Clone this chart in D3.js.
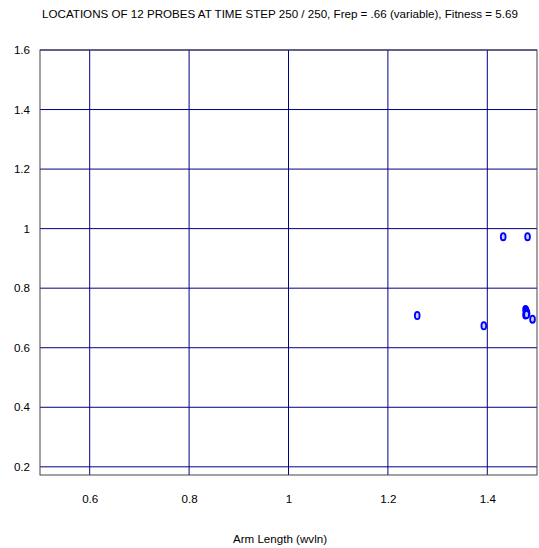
<!DOCTYPE html>
<html><head><meta charset="utf-8">
<script src="https://d3js.org/d3.v7.min.js"></script>
<style>body{margin:0;background:#fff;} svg{display:block;}</style>
</head><body>
<script>
const titleText = "LOCATIONS OF 12 PROBES AT TIME STEP 250 / 250, Frep = .66 (variable), Fitness = 5.69";
const xLabel = "Arm Length (wvln)";
const xTicks = [0.6, 0.8, 1, 1.2, 1.4];
const yTicks = [0.2, 0.4, 0.6, 0.8, 1, 1.2, 1.4, 1.6];
const probeX = [1.432, 1.481, 1.259, 1.393, 1.477, 1.478, 1.479, 1.480, 1.478, 1.477, 1.479, 1.491];
const probeY = [0.973, 0.973, 0.708, 0.674, 0.728, 0.724, 0.720, 0.716, 0.713, 0.710, 0.712, 0.696];

const W = 539, H = 548;
const mLeft = 40, mRight = 537, mTop = 50, mBottom = 475;
const svg = d3.select("body").append("svg").attr("width", W).attr("height", H);
const x = d3.scaleLinear().domain([0.5, 1.5]).range([mLeft, mRight]);
const y = d3.scaleLinear().domain([0.1725, 1.6]).range([mBottom, mTop]);
const font = "'Liberation Sans', Arial, sans-serif";

svg.append("text").attr("x", 280).attr("y", 18).attr("text-anchor", "middle")
  .attr("font-family", font).attr("font-size", 11.6).attr("fill", "#000").text(titleText);

const g = svg.append("g");
g.selectAll("line.vx").data(xTicks).join("line")
  .attr("x1", d => x(d)).attr("x2", d => x(d)).attr("y1", mTop).attr("y2", mBottom)
  .attr("stroke", "#000080").attr("stroke-width", 1);
g.selectAll("line.hy").data(yTicks).join("line")
  .attr("y1", d => y(d)).attr("y2", d => y(d)).attr("x1", mLeft).attr("x2", mRight)
  .attr("stroke", "#000080").attr("stroke-width", 1);

svg.append("rect").attr("x", mLeft).attr("y", mTop).attr("width", mRight - mLeft).attr("height", mBottom - mTop)
  .attr("fill", "none").attr("stroke", "#444").attr("stroke-width", 1);

const xAxis = d3.axisBottom(x).tickValues(xTicks).tickSize(0).tickPadding(20).tickFormat(d3.format(""));
const ax = svg.append("g").attr("transform", `translate(0,${mBottom})`).call(xAxis);
ax.select(".domain").remove();
ax.selectAll("text").attr("font-family", font).attr("font-size", 11.6).attr("fill", "#000");

const yAxis = d3.axisLeft(y).tickValues(yTicks).tickSize(0).tickPadding(10).tickFormat(d3.format(""));
const ay = svg.append("g").attr("transform", `translate(${mLeft},0)`).call(yAxis);
ay.select(".domain").remove();
ay.selectAll("text").attr("font-family", font).attr("font-size", 11.6).attr("fill", "#000");

svg.append("text").attr("x", 280).attr("y", 543).attr("text-anchor", "middle")
  .attr("font-family", font).attr("font-size", 11.6).attr("fill", "#000").text(xLabel);

const pts = probeX.map((v, i) => ({x: v, y: probeY[i]}));
svg.append("g").selectAll("ellipse").data(pts).join("ellipse")
  .attr("cx", d => x(d.x)).attr("cy", d => y(d.y)).attr("rx", 2.4).attr("ry", 3.6)
  .attr("fill", "#ccd0ff").attr("stroke", "#0000ff").attr("stroke-width", 1.8);
</script>
</body></html>
